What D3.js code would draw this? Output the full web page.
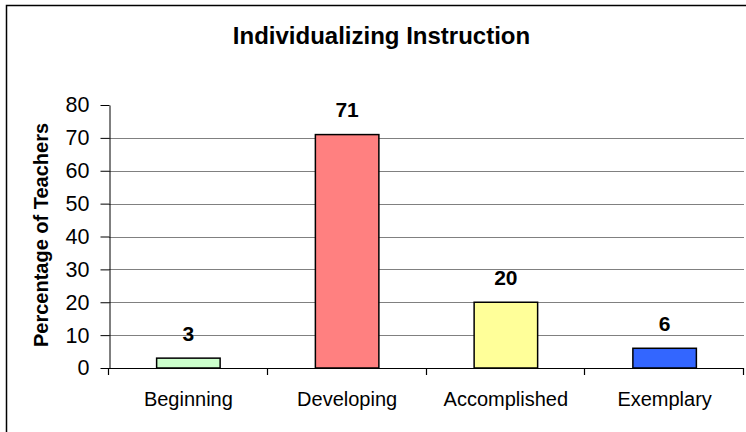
<!DOCTYPE html>
<html>
<head>
<meta charset="utf-8">
<script src="https://cdn.jsdelivr.net/npm/d3@7"></script>
<style>
  body { margin: 0; background: #fff; }
  svg { display: block; font-family: "Liberation Sans", Arial, sans-serif; }
</style>
</head>
<body>
<svg id="canvas" width="746" height="432"></svg>
<script>
let categories = ['Beginning', 'Developing', 'Accomplished', 'Exemplary']
let percentages = [3, 71, 20, 6]
let barColors = ['#CCFFCC', '#FF8080', '#FFFF99', '#3366FF']
let yTicks = [0, 10, 20, 30, 40, 50, 60, 70, 80]

let svg = d3.select('#canvas')

// chart border (runs off the right and bottom edges)
svg.append('rect')
  .attr('x', 6.5).attr('y', 5.5)
  .attr('width', 800).attr('height', 500)
  .attr('fill', 'none').attr('stroke', '#000').attr('stroke-width', 1.5)

let plotLeft = 109, plotRight = 744, plotTop = 105, plotBottom = 368

let x = d3.scaleBand()
  .domain(categories)
  .range([plotLeft, plotRight])
  .paddingInner(0.6)
  .paddingOuter(0.3)

let y = d3.scaleLinear()
  .domain([0, 80])
  .range([plotBottom, plotTop])

// gridlines
svg.append('g')
  .selectAll('line')
  .data(yTicks.filter(d => d > 0 && d < 80))
  .enter()
  .append('line')
  .attr('x1', plotLeft).attr('x2', plotRight)
  .attr('y1', d => Math.round(y(d)) + 0.5)
  .attr('y2', d => Math.round(y(d)) + 0.5)
  .attr('stroke', '#808080')
  .attr('stroke-width', 1.2)

// y axis
let yAxis = svg.append('g')
  .attr('transform', 'translate(' + (plotLeft + 0.5) + ',0)')
  .call(d3.axisLeft(y).tickValues(yTicks).tickSize(9).tickSizeOuter(0).tickPadding(11))
yAxis.select('.domain').attr('stroke', '#000')
yAxis.selectAll('.tick line').attr('stroke', '#000')
yAxis.selectAll('.tick text')
  .attr('font-size', 21.5)
  .attr('font-family', '"Liberation Sans", Arial, sans-serif')
  .attr('fill', '#000')

// bars
svg.append('g')
  .selectAll('rect')
  .data(percentages)
  .enter()
  .append('rect')
  .attr('x', (d, i) => x(categories[i]))
  .attr('y', d => y(d))
  .attr('width', x.bandwidth())
  .attr('height', d => y(0) - y(d))
  .attr('fill', (d, i) => barColors[i])
  .attr('stroke', '#000')
  .attr('stroke-width', 1.5)

// category axis
svg.append('line')
  .attr('x1', plotLeft).attr('x2', plotRight)
  .attr('y1', plotBottom + 0.5).attr('y2', plotBottom + 0.5)
  .attr('stroke', '#000').attr('stroke-width', 1.2)

let boundaries = d3.range(categories.length + 1).map(i => plotLeft + i * x.step())
svg.append('g')
  .selectAll('line')
  .data(boundaries)
  .enter()
  .append('line')
  .attr('x1', d => Math.round(d) - 0.5).attr('x2', d => Math.round(d) - 0.5)
  .attr('y1', plotBottom).attr('y2', plotBottom + 7)
  .attr('stroke', '#000').attr('stroke-width', 1.2)

svg.append('g')
  .selectAll('text')
  .data(categories)
  .enter()
  .append('text')
  .attr('x', d => x(d) + x.bandwidth() / 2)
  .attr('y', 406)
  .attr('text-anchor', 'middle')
  .attr('font-size', 20)
  .text(d => d)

// value labels
svg.append('g')
  .selectAll('text')
  .data(percentages)
  .enter()
  .append('text')
  .attr('x', (d, i) => x(categories[i]) + x.bandwidth() / 2)
  .attr('y', d => y(d) - 17.5)
  .attr('text-anchor', 'middle')
  .attr('font-size', 21)
  .attr('font-weight', 'bold')
  .text(d => d)

// title
svg.append('text')
  .attr('x', 381.5).attr('y', 43.5)
  .attr('text-anchor', 'middle')
  .attr('font-size', 24)
  .attr('font-weight', 'bold')
  .text('Individualizing Instruction')

// y axis title
svg.append('text')
  .attr('transform', 'translate(47.5,235) rotate(-90)')
  .attr('text-anchor', 'middle')
  .attr('font-size', 20)
  .attr('font-weight', 'bold')
  .text('Percentage of Teachers')
</script>
</body>
</html>
